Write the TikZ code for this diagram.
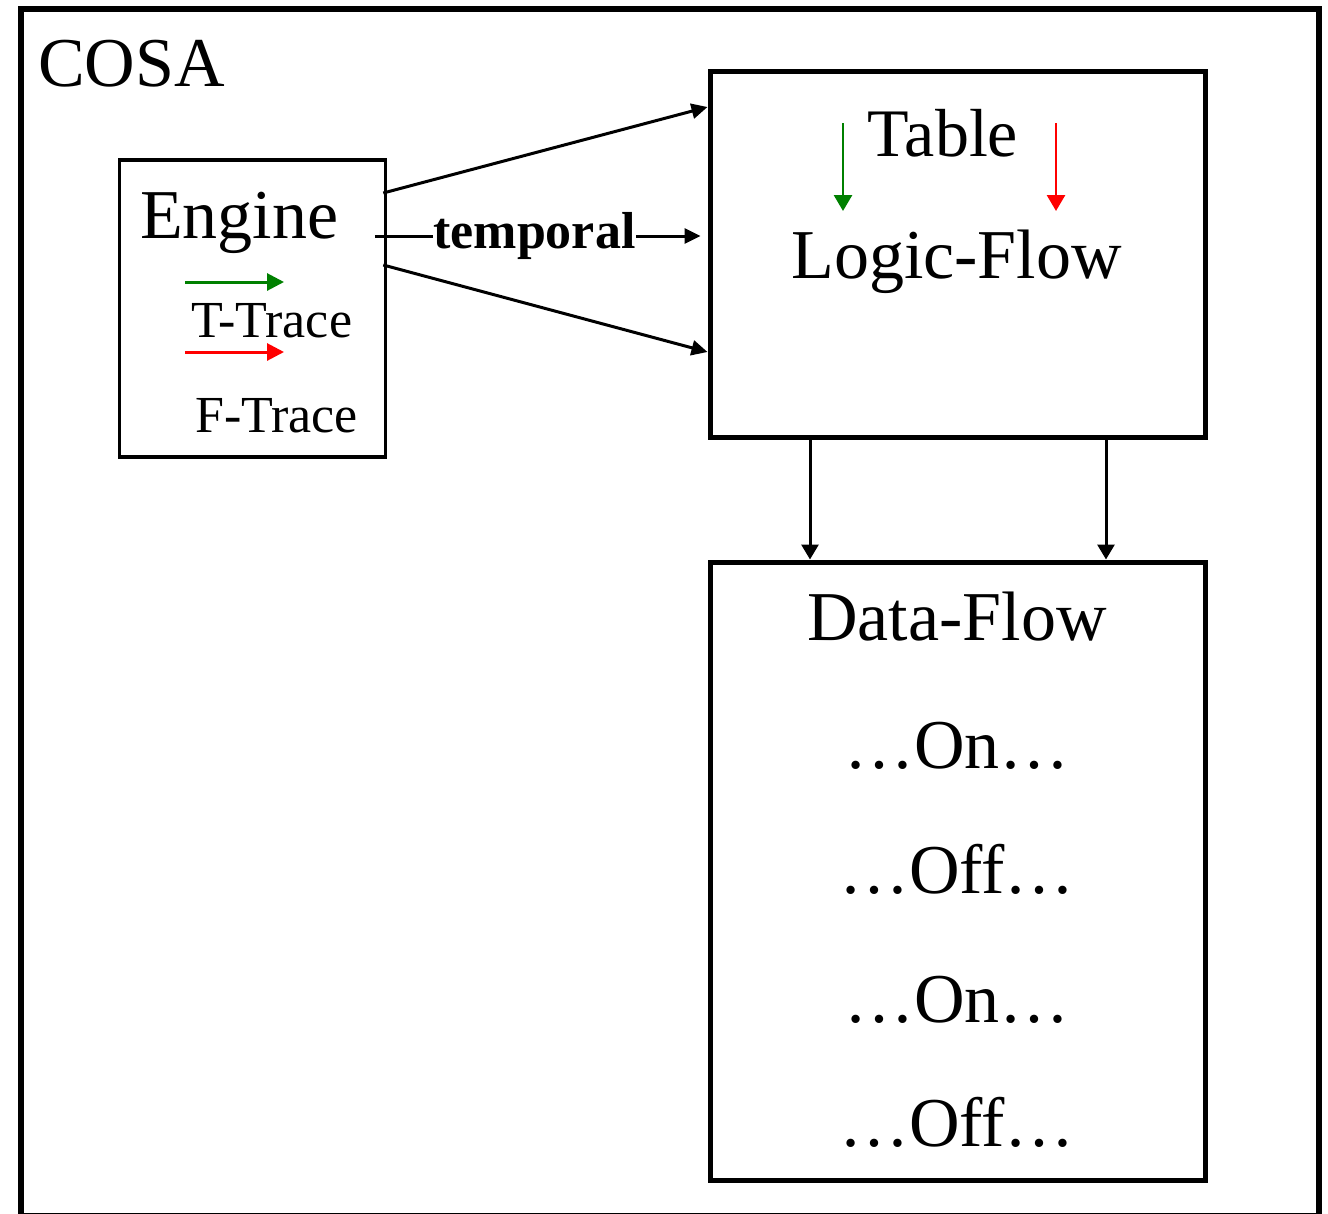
\documentclass[tikz,border=0pt]{standalone}
\usepackage{fontspec}
\setmainfont{Liberation Serif}
\usetikzlibrary{arrows.meta}
\definecolor{tgreen}{RGB}{0,128,0}
\definecolor{tred}{RGB}{255,0,0}
\tikzset{
  frame/.style={draw, line width=6pt},
  thinbox/.style={draw, line width=3.5pt, inner sep=0pt},
  thickbox/.style={draw, line width=5pt, inner sep=0pt},
  arr/.style={line width=3pt, -{Triangle[length=16pt,width=15pt]}},
  smallarr/.style={line width=3pt, -{Triangle[length=17pt,width=17pt]}},
  bigtext/.style={inner sep=0pt, font=\fontsize{70}{84}\selectfont},
  midtext/.style={inner sep=0pt, font=\fontsize{52}{62}\selectfont},
  lbl/.style={inner sep=0.5pt, font=\fontsize{52}{62}\selectfont\bfseries, fill=white}
}
\begin{document}
\begin{tikzpicture}[x=1pt,y=-1pt]
\useasboundingbox (0,0) rectangle (1328,1213);
\fill[white] (0,0) rectangle (1328,1213);
\draw[frame] (21,9) -- (1319,9) -- (1319,1216) -- (21,1216) -- cycle;
\node[bigtext, anchor=base west] (cosa) at (38,86) {COSA};

% Engine box
\node[thinbox, minimum width=266pt, minimum height=297pt] (engine) at (252.5,308.5) {};
\node[bigtext, anchor=base west] (enginet) at (140,238) {Engine};
\node[midtext, anchor=base west] (ttrace) at (191,337) {T-Trace};
\node[midtext, anchor=base west] (ftrace) at (195,432) {F-Trace};
\coordinate (ga) at (185,282);
\coordinate (gb) at (284,282);
\coordinate (ra) at (185,352);
\coordinate (rb) at (284,352);
\draw[smallarr, tgreen] (ga) -- (gb);
\draw[smallarr, tred] (ra) -- (rb);

% Logic box
\node[thickbox, minimum width=495pt, minimum height=366pt] (logic) at (957.5,254) {};
\node[bigtext, font=\fontsize{68}{80}\selectfont, anchor=base] (table) at (943,156) {Table};
\node[bigtext, anchor=base] (lflow) at (956.5,278) {Logic-Flow};
\coordinate (lg1) at (843,123);
\coordinate (lg2) at (843,211);
\coordinate (lr1) at (1056,123);
\coordinate (lr2) at (1056,211);
\draw[tgreen, line width=2.8pt, -{Triangle[length=16pt,width=18pt]}] (lg1) -- (lg2);
\draw[tred, line width=2.8pt, -{Triangle[length=16pt,width=18pt]}] (lr1) -- (lr2);

% Data box
\node[thickbox, minimum width=495pt, minimum height=618pt] (data) at (957.5,871) {};
\node[bigtext, anchor=base] (dflow) at (957,640) {Data-Flow};
\node[bigtext, anchor=base] (on1) at (957,768) {\dots On\dots};
\node[bigtext, anchor=base] (off1) at (957,893) {\dots Off\dots};
\node[bigtext, anchor=base] (on2) at (957,1022) {\dots On\dots};
\node[bigtext, anchor=base] (off2) at (957,1146) {\dots Off\dots};

% Connectors engine -> logic
\draw[arr] ([xshift=-4pt,yshift=115.5pt]engine.east) -- ([yshift=147pt]logic.west);
\draw[arr] ([xshift=-4pt,yshift=43.5pt]engine.east) -- ([yshift=-98pt]logic.west);
\draw[arr] ([xshift=-12.5pt,yshift=72.5pt]engine.east) -- ([xshift=-7pt,yshift=18pt]logic.west)
  node[lbl, pos=0.49] (temporal) {temporal};

% Logic -> data
\draw[arr, -{Triangle[length=15pt,width=17pt]}] ([xshift=-147.5pt]logic.south) -- ([xshift=-147.5pt]data.north);
\draw[arr, -{Triangle[length=15pt,width=17pt]}] ([xshift=148.5pt]logic.south) -- ([xshift=148.5pt]data.north);
\end{tikzpicture}
\end{document}
